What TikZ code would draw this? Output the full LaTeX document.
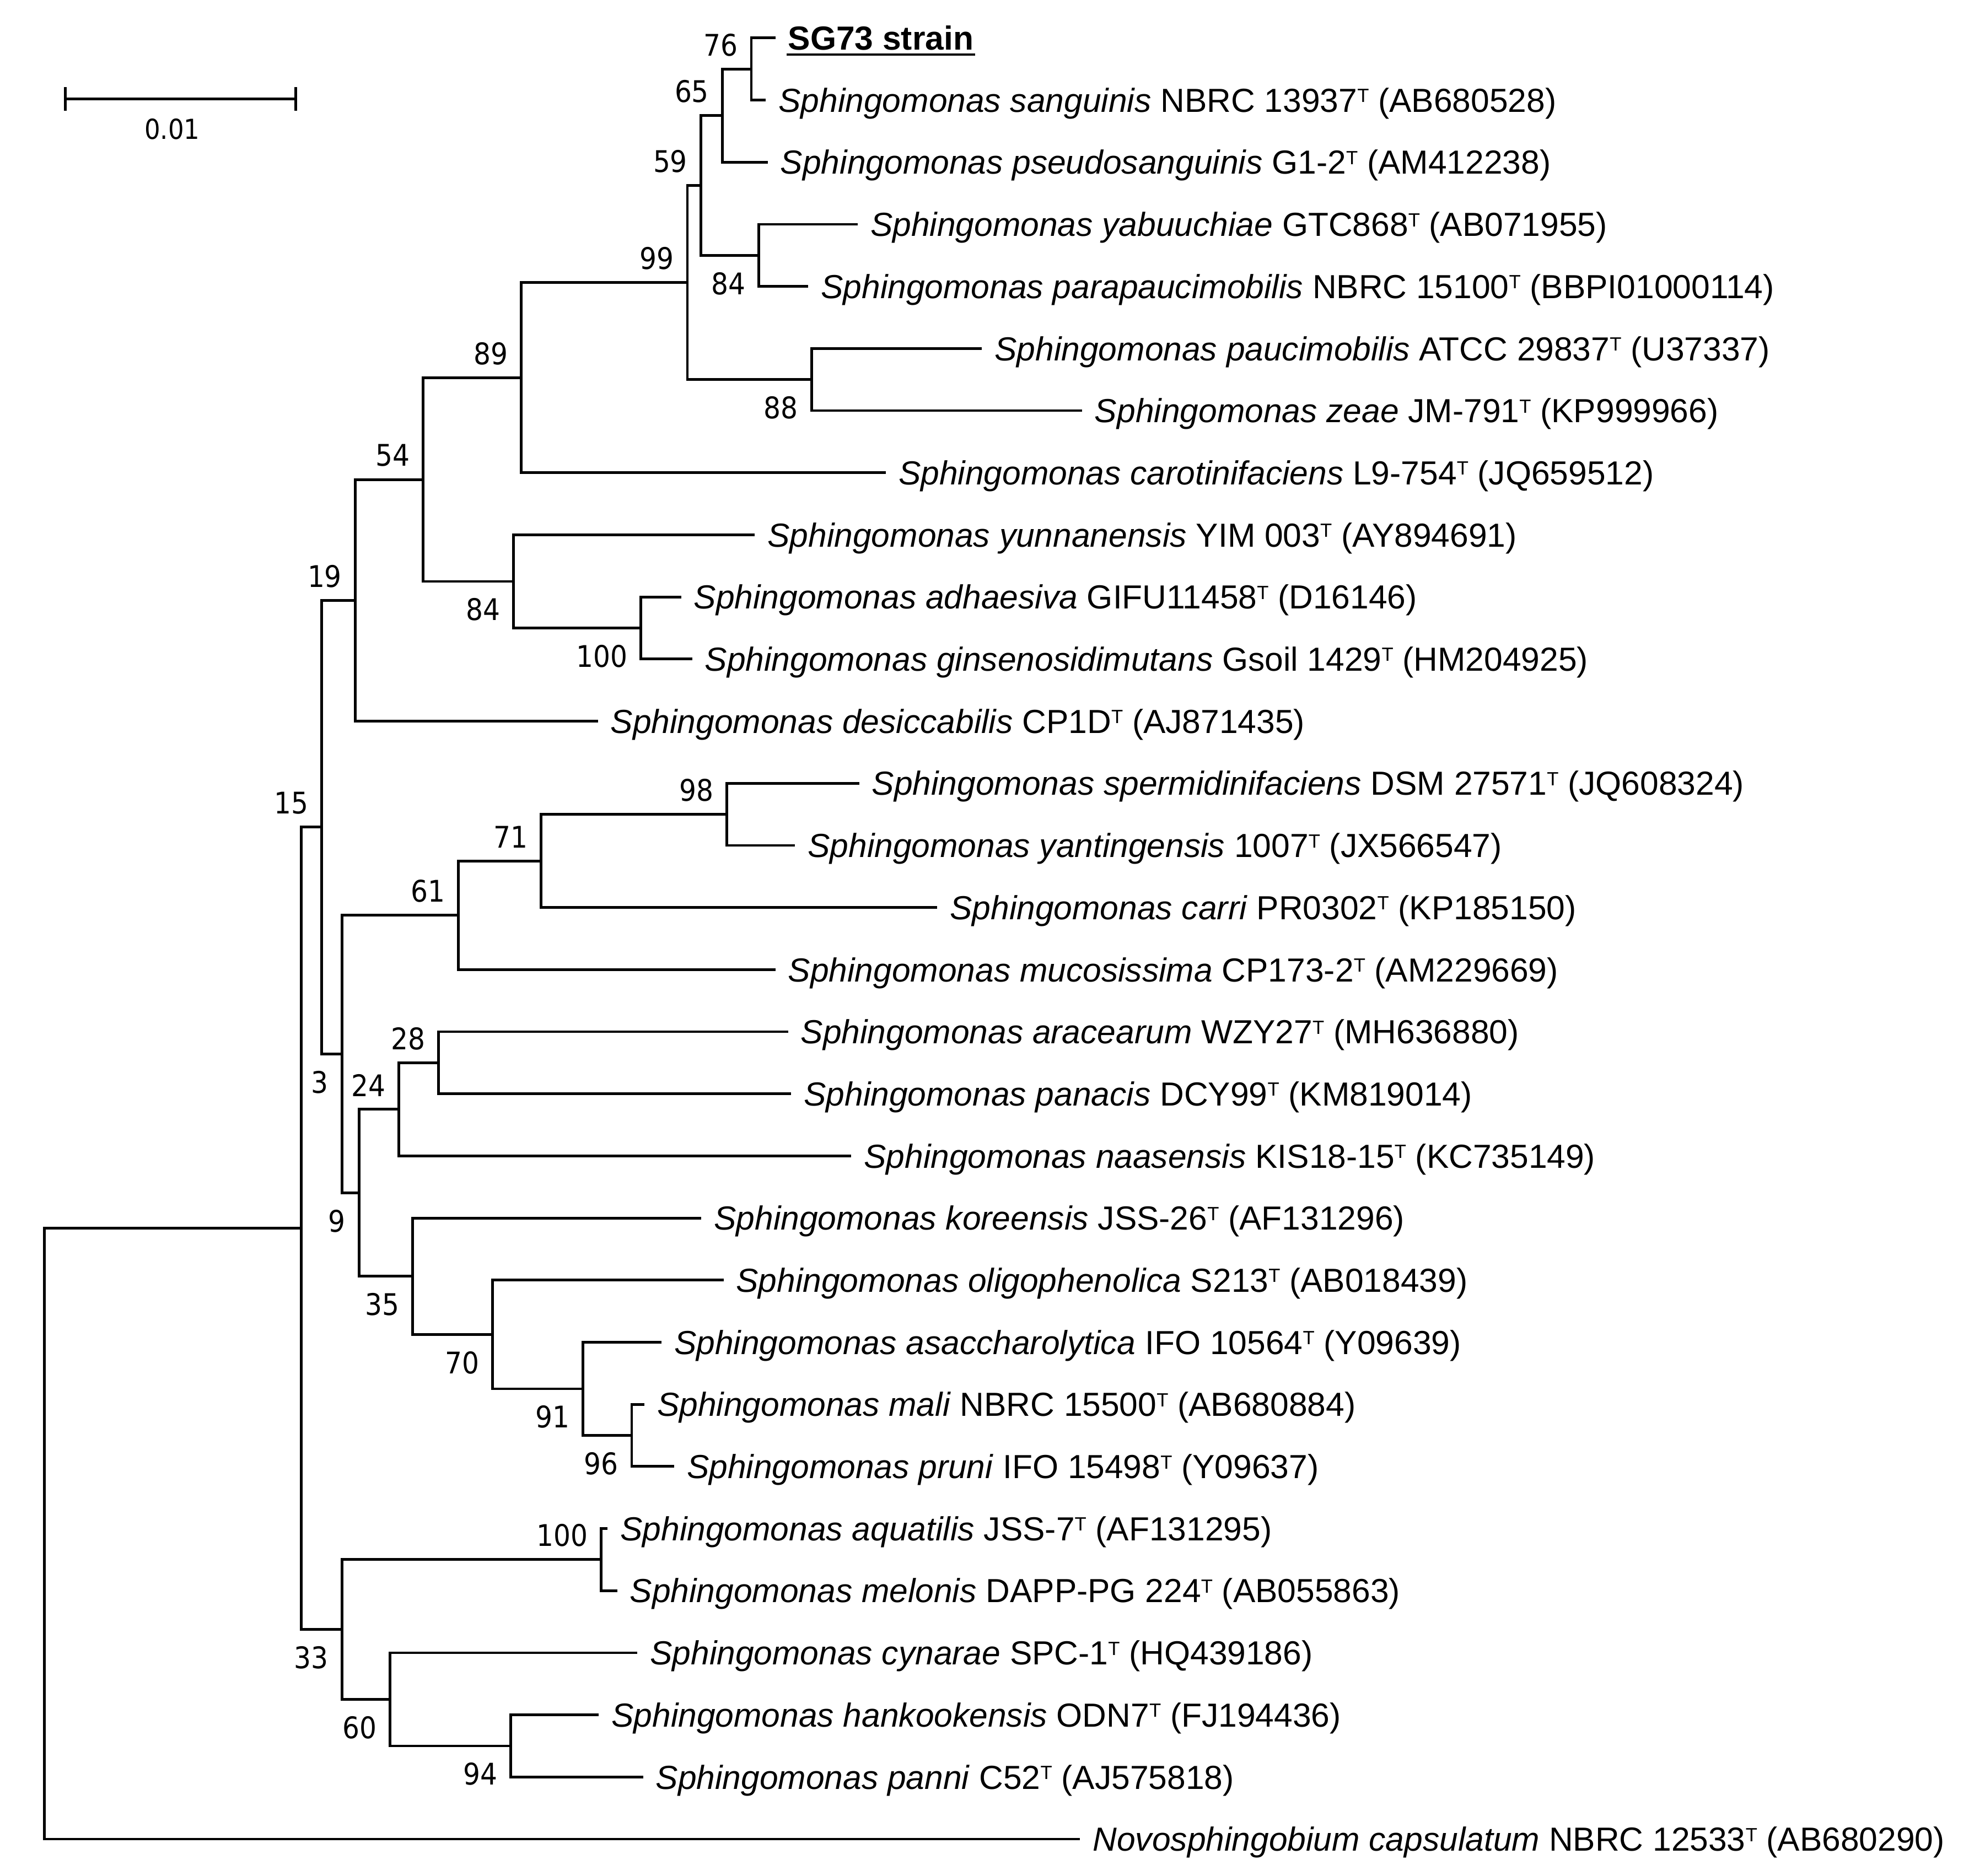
\documentclass[tikz,border=0pt]{standalone}
\usepackage{fontspec}
\setmainfont{Liberation Sans}
\newfontfamily\bootfont[FakeStretch=0.9]{DejaVu Sans}
\usepackage{tikz}

\newcommand{\sphingo}[1]{\textit{Sphingomonas #1}}
\newcommand{\typeT}{\raisebox{4.35pt}{\fontsize{8.6}{8.6}\selectfont T}}

\begin{document}
\begin{tikzpicture}[x=0.02cm, y=-0.02cm, line width=1.2pt,
  leaf/.style={anchor=west, inner xsep=0.18cm, inner ysep=0pt, text height=10.75pt, text depth=0pt, font=\fontsize{15}{17}\selectfont},
  boot/.style={anchor=east, inner sep=0pt, font=\bootfont\fontsize{13.4}{15}\selectfont},
  bootup/.style={boot, xshift=-0.19cm, yshift=0.38cm},
  bootdn/.style={boot, xshift=-0.19cm, yshift=-0.445cm}]
\useasboundingbox (0,0) rectangle (1568,1482);

% scale bar
\coordinate (bar0) at (51.5,78.2);
\coordinate (bar1) at (233.5,78.2);
\draw (bar0) -- (bar1);
\draw (bar0) ++(0,-9.3) -- ++(0,18.6);
\draw (bar1) ++(0,-9.3) -- ++(0,18.6);
\node[boot, anchor=center, font=\bootfont\fontsize{12.4}{14}\selectfont] (barlbl) at (136,102.2) {0.01};

% leaves
\node[leaf] (sg73)  at (612.5,30)      {\textbf{SG73 strain}};
\node[leaf] (sang)  at (605,79.07)     {\sphingo{sanguinis} NBRC 13937\typeT{} (AB680528)};
\node[leaf] (psang) at (606.5,128.14)  {\sphingo{pseudosanguinis} G1-2\typeT{} (AM412238)};
\node[leaf] (yabu)  at (677.5,177.21)  {\sphingo{yabuuchiae} GTC868\typeT{} (AB071955)};
\node[leaf] (parap) at (638.5,226.28)  {\sphingo{parapaucimobilis} NBRC 15100\typeT{} (BBPI01000114)};
\node[leaf] (pauci) at (775.7,275.35)  {\sphingo{paucimobilis} ATCC 29837\typeT{} (U37337)};
\node[leaf] (zeae)  at (854.7,324.42)  {\sphingo{zeae} JM-791\typeT{} (KP999966)};
\node[leaf] (carot) at (699.7,373.49)  {\sphingo{carotinifaciens} L9-754\typeT{} (JQ659512)};
\node[leaf] (yunn)  at (596.3,422.56)  {\sphingo{yunnanensis} YIM 003\typeT{} (AY894691)};
\node[leaf] (adha)  at (538,471.63)    {\sphingo{adhaesiva} GIFU11458\typeT{} (D16146)};
\node[leaf] (gins)  at (546.7,520.70)  {\sphingo{ginsenosidimutans} Gsoil 1429\typeT{} (HM204925)};
\node[leaf] (desic) at (472.3,569.77)  {\sphingo{desiccabilis} CP1D\typeT{} (AJ871435)};
\node[leaf] (sperm) at (678.7,618.84)  {\sphingo{spermidinifaciens} DSM 27571\typeT{} (JQ608324)};
\node[leaf] (yant)  at (628,667.91)    {\sphingo{yantingensis} 1007\typeT{} (JX566547)};
\node[leaf] (carri) at (740.4,716.98)  {\sphingo{carri} PR0302\typeT{} (KP185150)};
\node[leaf] (mucos) at (612.5,766.05)  {\sphingo{mucosissima} CP173-2\typeT{} (AM229669)};
\node[leaf] (arac)  at (622.5,815.12)  {\sphingo{aracearum} WZY27\typeT{} (MH636880)};
\node[leaf] (panac) at (625,864.19)    {\sphingo{panacis} DCY99\typeT{} (KM819014)};
\node[leaf] (naas)  at (672.5,913.26)  {\sphingo{naasensis} KIS18-15\typeT{} (KC735149)};
\node[leaf] (korea) at (554,962.33)    {\sphingo{koreensis} JSS-26\typeT{} (AF131296)};
\node[leaf] (oligo) at (571.5,1011.40) {\sphingo{oligophenolica} S213\typeT{} (AB018439)};
\node[leaf] (asacc) at (522.5,1060.47) {\sphingo{asaccharolytica} IFO 10564\typeT{} (Y09639)};
\node[leaf] (mali)  at (509,1109.54)   {\sphingo{mali} NBRC 15500\typeT{} (AB680884)};
\node[leaf] (pruni) at (532.5,1158.61) {\sphingo{pruni} IFO 15498\typeT{} (Y09637)};
\node[leaf] (aquat) at (480,1207.68)   {\sphingo{aquatilis} JSS-7\typeT{} (AF131295)};
\node[leaf] (melon) at (487.5,1256.75) {\sphingo{melonis} DAPP-PG 224\typeT{} (AB055863)};
\node[leaf] (cynar) at (503.5,1305.82) {\sphingo{cynarae} SPC-1\typeT{} (HQ439186)};
\node[leaf] (hank)  at (473,1354.89)   {\sphingo{hankookensis} ODN7\typeT{} (FJ194436)};
\node[leaf] (panni) at (508,1403.96)   {\sphingo{panni} C52\typeT{} (AJ575818)};
\node[leaf] (novo)  at (853.2,1453.03) {\textit{Novosphingobium capsulatum} NBRC 12533\typeT{} (AB680290)};
\draw[line width=1pt] ([xshift=0.18cm, yshift=-1.6pt]sg73.south west) -- ([xshift=-0.18cm, yshift=-1.6pt]sg73.south east);

% inner nodes
\coordinate (n76)   at (593.5,54.54);
\coordinate (n65)   at (570.5,91.34);
\coordinate (n84a)  at (599.5,201.75);
\coordinate (n59)   at (553.5,146.54);
\coordinate (n88a)  at (641,299.89);
\coordinate (n99)   at (543,223.21);
\coordinate (n89)   at (411.7,298.35);
\coordinate (n100a) at (506.2,496.17);
\coordinate (n84b)  at (405.5,459.36);
\coordinate (n54)   at (334.2,378.86);
\coordinate (n19)   at (280.5,474.31);
\coordinate (n98)   at (574,643.38);
\coordinate (n71)   at (427.5,680.18);
\coordinate (n61)   at (362,723.11);
\coordinate (n28)   at (346.5,839.66);
\coordinate (n24)   at (315,876.46);
\coordinate (n96)   at (499,1134.08);
\coordinate (n91)   at (460.5,1097.27);
\coordinate (n70)   at (389,1054.34);
\coordinate (n35)   at (326,1008.33);
\coordinate (n9)    at (283.5,942.40);
\coordinate (n3)    at (270,832.75);
\coordinate (n15)   at (254.2,653.53);
\coordinate (n100b) at (475,1232.22);
\coordinate (n94)   at (403.5,1379.43);
\coordinate (n60)   at (308,1342.62);
\coordinate (n33)   at (270,1287.42);
\coordinate (nS)    at (238,970.47);
\coordinate (root)  at (35,1211.75);

% branches
\draw (n76) |- (sg73.west)  (n76) |- (sang.west);
\draw (n65) |- (n76)        (n65) |- (psang.west);
\draw (n84a) |- (yabu.west) (n84a) |- (parap.west);
\draw (n59) |- (n65)        (n59) |- (n84a);
\draw (n88a) |- (pauci.west) (n88a) |- (zeae.west);
\draw (n99) |- (n59)        (n99) |- (n88a);
\draw (n89) |- (n99)        (n89) |- (carot.west);
\draw (n100a) |- (adha.west) (n100a) |- (gins.west);
\draw (n84b) |- (yunn.west) (n84b) |- (n100a);
\draw (n54) |- (n89)        (n54) |- (n84b);
\draw (n19) |- (n54)        (n19) |- (desic.west);
\draw (n98) |- (sperm.west) (n98) |- (yant.west);
\draw (n71) |- (n98)        (n71) |- (carri.west);
\draw (n61) |- (n71)        (n61) |- (mucos.west);
\draw (n28) |- (arac.west)  (n28) |- (panac.west);
\draw (n24) |- (n28)        (n24) |- (naas.west);
\draw (n96) |- (mali.west)  (n96) |- (pruni.west);
\draw (n91) |- (asacc.west) (n91) |- (n96);
\draw (n70) |- (oligo.west) (n70) |- (n91);
\draw (n35) |- (korea.west) (n35) |- (n70);
\draw (n9) |- (n24)         (n9) |- (n35);
\draw (n3) |- (n61)         (n3) |- (n9);
\draw (n15) |- (n19)        (n15) |- (n3);
\draw (n100b) |- (aquat.west) (n100b) |- (melon.west);
\draw (n94) |- (hank.west)  (n94) |- (panni.west);
\draw (n60) |- (cynar.west) (n60) |- (n94);
\draw (n33) |- (n100b)      (n33) |- (n60);
\draw (nS) |- (n15)         (nS) |- (n33);
\draw (root) |- (nS)        (root) |- (novo.west);

% bootstrap values
\node[bootup] (b76)   at (n76)   {76};
\node[bootup] (b65)   at (n65)   {65};
\node[bootup] (b59)   at (n59)   {59};
\node[bootup] (b99)   at (n99)   {99};
\node[bootdn] (b84a)  at (n84a)  {84};
\node[bootup] (b89)   at (n89)   {89};
\node[bootdn] (b88a)  at (n88a)  {88};
\node[bootup] (b54)   at (n54)   {54};
\node[bootdn] (b84b)  at (n84b)  {84};
\node[bootdn] (b100a) at (n100a) {100};
\node[bootup] (b19)   at (n19)   {19};
\node[bootup] (b15)   at (n15)   {15};
\node[bootup] (b98)   at (n98)   {98};
\node[bootup] (b71)   at (n71)   {71};
\node[bootup] (b61)   at (n61)   {61};
\node[bootdn] (b3)    at (n3)    {3};
\node[bootup] (b28)   at (n28)   {28};
\node[bootup] (b24)   at (n24)   {24};
\node[bootdn] (b9)    at (n9)    {9};
\node[bootdn] (b35)   at (n35)   {35};
\node[bootdn] (b70)   at (n70)   {70};
\node[bootdn] (b91)   at (n91)   {91};
\node[bootdn] (b96)   at (n96)   {96};
\node[bootup] (b100b) at (n100b) {100};
\node[bootdn] (b33)   at (n33)   {33};
\node[bootdn] (b60)   at (n60)   {60};
\node[bootdn] (b94)   at (n94)   {94};
\end{tikzpicture}
\end{document}
